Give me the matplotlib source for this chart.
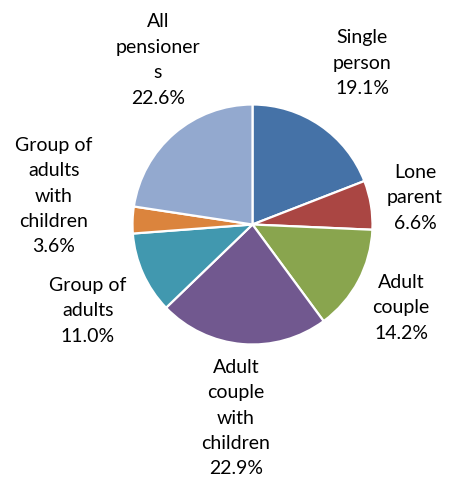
import matplotlib
matplotlib.use("Agg")
import matplotlib.pyplot as plt

# household types, clockwise from 12 o'clock
categories = ["Single\nperson", "Lone\nparent", "Adult\ncouple",
              "Adult\ncouple\nwith\nchildren", "Group of\nadults",
              "Group of\nadults\nwith\nchildren", "All\npensioner\ns"]
shares = [19.1, 6.6, 14.2, 22.9, 11.0, 3.6, 22.6]
colors = ["#4572A7", "#AA4643", "#89A54E", "#71588F",
          "#4198AF", "#DB843D", "#93A9CF"]

# label centres in pixels (x from left, y from top)
label_xy = [(362, 63), (415, 198), (401, 308), (236, 418),
            (88, 311), (54, 196), (158, 60)]

W, H = 453, 480
fig = plt.figure(figsize=(W / 100, H / 100), dpi=100)
ax = fig.add_axes([0, 0, 1, 1])

ax.pie(shares, colors=colors, startangle=90, counterclock=False,
       center=(252.5, H - 224.5), radius=120,
       wedgeprops=dict(edgecolor="white", linewidth=1.6))

for name, val, (x, y) in zip(categories, shares, label_xy):
    ax.text(x, H - y, f"{name}\n{val:.1f}%", ha="center", va="center",
            fontsize=14, family=["Lato", "DejaVu Sans"], color="#000000",
            linespacing=1.6, multialignment="center")

ax.set_xlim(0, W)
ax.set_ylim(0, H)
ax.set_aspect("equal")
ax.axis("off")

fig.savefig("out.png", dpi=100, facecolor="white")
